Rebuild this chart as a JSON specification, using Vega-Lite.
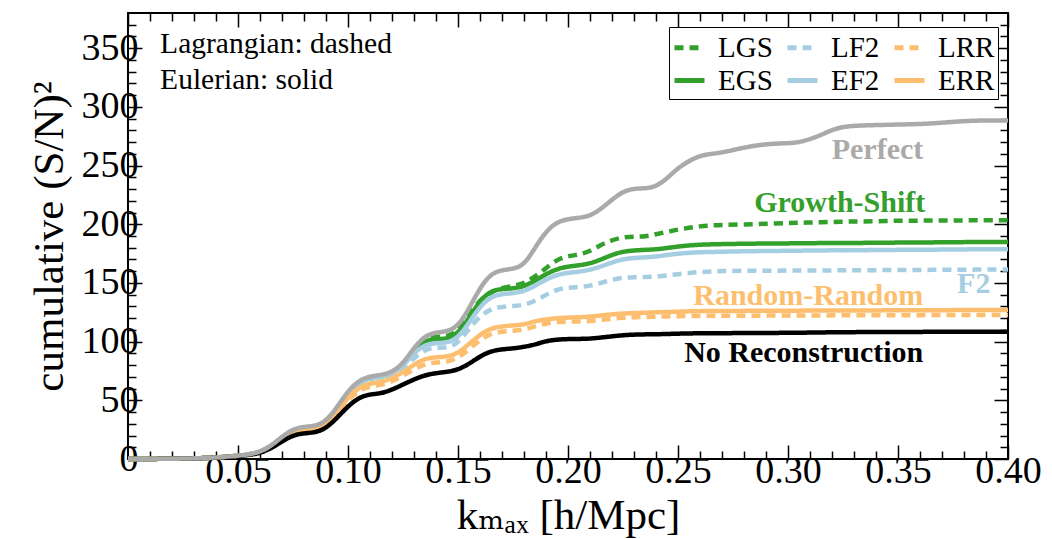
{
  "$schema": "https://vega.github.io/schema/vega-lite/v6.json",
  "width": 880,
  "height": 446,
  "autosize": "none",
  "padding": {"left": 128, "top": 13, "right": 44, "bottom": 80},
  "background": "white",
  "config": {
    "font": "Liberation Serif, Times New Roman, DejaVu Serif, serif",
    "view": {"stroke": "black", "strokeWidth": 2},
    "axis": {
      "labelFont": "Liberation Serif, Times New Roman, DejaVu Serif, serif", "titleFont": "Liberation Serif, Times New Roman, DejaVu Serif, serif",
      "labelColor": "black", "titleColor": "black", "tickColor": "black",
      "tickWidth": 1.5, "domain": false, "grid": false, "titleFontWeight": "normal",
      "labelFlush": false, "labelOverlap": false
    },
    "legend": {"labelFont": "Liberation Serif, Times New Roman, DejaVu Serif, serif"},
    "text": {"font": "Liberation Serif, Times New Roman, DejaVu Serif, serif"}
  },
  "datasets": {
    "curves": [
      {"k":0,"Perfect":0,"NoRecon":0,"EGS":0,"LGS":0,"EF2":0,"LF2":0,"ERR":0,"LRR":0},
      {"k":0.01,"Perfect":0.05,"NoRecon":0.05,"EGS":0.05,"LGS":0.05,"EF2":0.05,"LF2":0.05,"ERR":0.05,"LRR":0.05},
      {"k":0.02,"Perfect":0.2,"NoRecon":0.2,"EGS":0.2,"LGS":0.2,"EF2":0.2,"LF2":0.2,"ERR":0.2,"LRR":0.2},
      {"k":0.03,"Perfect":0.5,"NoRecon":0.5,"EGS":0.5,"LGS":0.5,"EF2":0.5,"LF2":0.5,"ERR":0.5,"LRR":0.5},
      {"k":0.04,"Perfect":1.2,"NoRecon":1.1,"EGS":1.2,"LGS":1.2,"EF2":1.2,"LF2":1.2,"ERR":1.2,"LRR":1.2},
      {"k":0.05,"Perfect":2.8,"NoRecon":2.5,"EGS":2.8,"LGS":2.8,"EF2":2.8,"LF2":2.8,"ERR":2.7,"LRR":2.7},
      {"k":0.055,"Perfect":3.8,"NoRecon":3.4,"EGS":3.8,"LGS":3.8,"EF2":3.8,"LF2":3.8,"ERR":3.7,"LRR":3.6},
      {"k":0.06,"Perfect":6,"NoRecon":5,"EGS":5.9,"LGS":5.9,"EF2":5.9,"LF2":5.8,"ERR":5.7,"LRR":5.5},
      {"k":0.065,"Perfect":11,"NoRecon":9,"EGS":10.8,"LGS":10.8,"EF2":10.8,"LF2":10.6,"ERR":10.5,"LRR":10},
      {"k":0.07,"Perfect":19,"NoRecon":15,"EGS":18.6,"LGS":18.6,"EF2":18.6,"LF2":18.4,"ERR":17.8,"LRR":17},
      {"k":0.075,"Perfect":25.5,"NoRecon":20.3,"EGS":25,"LGS":25,"EF2":25,"LF2":24.7,"ERR":23.5,"LRR":22.5},
      {"k":0.08,"Perfect":27.5,"NoRecon":22,"EGS":27,"LGS":27,"EF2":27,"LF2":26.7,"ERR":25.3,"LRR":24.3},
      {"k":0.085,"Perfect":28,"NoRecon":22.5,"EGS":27.5,"LGS":27.5,"EF2":27.5,"LF2":27.2,"ERR":25.7,"LRR":24.7},
      {"k":0.09,"Perfect":32,"NoRecon":26,"EGS":31.3,"LGS":31.3,"EF2":31.3,"LF2":31,"ERR":29.5,"LRR":28.3},
      {"k":0.095,"Perfect":44,"NoRecon":35,"EGS":43,"LGS":43,"EF2":43,"LF2":42.5,"ERR":40,"LRR":38.5},
      {"k":0.1,"Perfect":58,"NoRecon":45,"EGS":56.5,"LGS":56.5,"EF2":56.5,"LF2":56,"ERR":52.5,"LRR":50.5},
      {"k":0.105,"Perfect":67,"NoRecon":52.5,"EGS":65.5,"LGS":65.5,"EF2":65.5,"LF2":65,"ERR":61,"LRR":58.5},
      {"k":0.11,"Perfect":70.5,"NoRecon":55.2,"EGS":69,"LGS":69,"EF2":69,"LF2":68.5,"ERR":64.5,"LRR":62},
      {"k":0.115,"Perfect":71.5,"NoRecon":55.8,"EGS":70,"LGS":70,"EF2":70,"LF2":69.5,"ERR":65.5,"LRR":63},
      {"k":0.12,"Perfect":74,"NoRecon":59,"EGS":72.8,"LGS":72.8,"EF2":72.5,"LF2":71,"ERR":68.8,"LRR":66},
      {"k":0.125,"Perfect":81,"NoRecon":63.5,"EGS":80,"LGS":80,"EF2":79,"LF2":76.5,"ERR":74,"LRR":71},
      {"k":0.13,"Perfect":95,"NoRecon":67.8,"EGS":92,"LGS":93,"EF2":90.5,"LF2":86,"ERR":80.5,"LRR":76.5},
      {"k":0.135,"Perfect":105,"NoRecon":71.5,"EGS":101,"LGS":102.5,"EF2":97.5,"LF2":93.5,"ERR":85.5,"LRR":81},
      {"k":0.14,"Perfect":108,"NoRecon":73.2,"EGS":102.5,"LGS":104.5,"EF2":98.8,"LF2":95,"ERR":86.8,"LRR":82.3},
      {"k":0.145,"Perfect":108.5,"NoRecon":74.2,"EGS":102,"LGS":104,"EF2":99,"LF2":94.5,"ERR":87,"LRR":82.6},
      {"k":0.15,"Perfect":113,"NoRecon":76,"EGS":107,"LGS":109,"EF2":103,"LF2":98.5,"ERR":90,"LRR":86},
      {"k":0.155,"Perfect":128,"NoRecon":81,"EGS":120,"LGS":122.5,"EF2":116,"LF2":111,"ERR":98,"LRR":93.5},
      {"k":0.16,"Perfect":146,"NoRecon":87.5,"EGS":135,"LGS":136,"EF2":130,"LF2":122,"ERR":106,"LRR":101.5},
      {"k":0.165,"Perfect":158,"NoRecon":92,"EGS":143.5,"LGS":142,"EF2":138.5,"LF2":128,"ERR":111.5,"LRR":107},
      {"k":0.17,"Perfect":161,"NoRecon":93.5,"EGS":144.8,"LGS":146,"EF2":140.5,"LF2":129.8,"ERR":113,"LRR":108.5},
      {"k":0.175,"Perfect":162,"NoRecon":94.2,"EGS":145.3,"LGS":147.3,"EF2":141.3,"LF2":130.3,"ERR":113.8,"LRR":109.3},
      {"k":0.18,"Perfect":165,"NoRecon":95.5,"EGS":147,"LGS":149.5,"EF2":142.8,"LF2":131.2,"ERR":114.5,"LRR":110.2},
      {"k":0.185,"Perfect":180,"NoRecon":97.5,"EGS":152,"LGS":155.5,"EF2":147.5,"LF2":134.5,"ERR":117.5,"LRR":113},
      {"k":0.19,"Perfect":194,"NoRecon":100.5,"EGS":157.5,"LGS":162.5,"EF2":153,"LF2":140,"ERR":119,"LRR":115.5},
      {"k":0.195,"Perfect":202,"NoRecon":101.8,"EGS":162,"LGS":170,"EF2":157,"LF2":144.5,"ERR":120,"LRR":116.8},
      {"k":0.2,"Perfect":204.5,"NoRecon":102.2,"EGS":164,"LGS":173,"EF2":158.7,"LF2":146,"ERR":120.5,"LRR":117},
      {"k":0.205,"Perfect":205.5,"NoRecon":102.3,"EGS":165,"LGS":174,"EF2":159.5,"LF2":146.5,"ERR":120.8,"LRR":117.2},
      {"k":0.21,"Perfect":207,"NoRecon":102.5,"EGS":166.5,"LGS":177,"EF2":161.2,"LF2":147.5,"ERR":121.3,"LRR":117.5},
      {"k":0.215,"Perfect":213,"NoRecon":103.5,"EGS":170,"LGS":182.5,"EF2":164,"LF2":150,"ERR":122.3,"LRR":118.5},
      {"k":0.22,"Perfect":221,"NoRecon":104.5,"EGS":174,"LGS":186.5,"EF2":167.5,"LF2":152.8,"ERR":123.3,"LRR":119.5},
      {"k":0.225,"Perfect":228,"NoRecon":105.5,"EGS":176.8,"LGS":189,"EF2":170.3,"LF2":154.5,"ERR":124,"LRR":120.3},
      {"k":0.23,"Perfect":230.5,"NoRecon":106,"EGS":177.7,"LGS":189.5,"EF2":171.3,"LF2":155,"ERR":124.3,"LRR":120.8},
      {"k":0.235,"Perfect":230.5,"NoRecon":106.2,"EGS":178.2,"LGS":189.5,"EF2":171.8,"LF2":155.1,"ERR":124.6,"LRR":121},
      {"k":0.24,"Perfect":232,"NoRecon":106.3,"EGS":178.6,"LGS":191.5,"EF2":172.5,"LF2":155.3,"ERR":125,"LRR":121.3},
      {"k":0.245,"Perfect":239,"NoRecon":106.5,"EGS":179.8,"LGS":193.5,"EF2":173.8,"LF2":156.4,"ERR":125.2,"LRR":121.5},
      {"k":0.25,"Perfect":248,"NoRecon":106.8,"EGS":181,"LGS":195.5,"EF2":175,"LF2":157.5,"ERR":125.5,"LRR":121.7},
      {"k":0.255,"Perfect":254,"NoRecon":107,"EGS":182,"LGS":197,"EF2":175.7,"LF2":158.5,"ERR":125.8,"LRR":121.8},
      {"k":0.26,"Perfect":258.5,"NoRecon":107.1,"EGS":182.6,"LGS":198.3,"EF2":176.2,"LF2":159.3,"ERR":126,"LRR":121.9},
      {"k":0.265,"Perfect":260,"NoRecon":107.2,"EGS":182.9,"LGS":199,"EF2":176.4,"LF2":159.8,"ERR":126.1,"LRR":122},
      {"k":0.27,"Perfect":261,"NoRecon":107.2,"EGS":183.1,"LGS":199.4,"EF2":176.6,"LF2":160.2,"ERR":126.1,"LRR":122},
      {"k":0.28,"Perfect":265.5,"NoRecon":107.3,"EGS":183.4,"LGS":199.8,"EF2":177,"LF2":160.4,"ERR":126.2,"LRR":122.1},
      {"k":0.29,"Perfect":268.5,"NoRecon":107.4,"EGS":183.6,"LGS":200.4,"EF2":177.2,"LF2":160.5,"ERR":126.3,"LRR":122.2},
      {"k":0.3,"Perfect":269,"NoRecon":107.5,"EGS":183.7,"LGS":201,"EF2":177.4,"LF2":160.5,"ERR":126.4,"LRR":122.2},
      {"k":0.305,"Perfect":269.8,"NoRecon":107.6,"EGS":183.8,"LGS":201.2,"EF2":177.5,"LF2":160.5,"ERR":126.4,"LRR":122.2},
      {"k":0.31,"Perfect":272.5,"NoRecon":107.7,"EGS":183.9,"LGS":201.5,"EF2":177.6,"LF2":160.6,"ERR":126.5,"LRR":122.3},
      {"k":0.315,"Perfect":276,"NoRecon":107.8,"EGS":183.95,"LGS":201.7,"EF2":177.7,"LF2":160.6,"ERR":126.5,"LRR":122.3},
      {"k":0.32,"Perfect":280.5,"NoRecon":108,"EGS":184,"LGS":202,"EF2":177.8,"LF2":160.7,"ERR":126.5,"LRR":122.4},
      {"k":0.325,"Perfect":283,"NoRecon":108,"EGS":184.05,"LGS":202.2,"EF2":177.85,"LF2":160.75,"ERR":126.55,"LRR":122.4},
      {"k":0.33,"Perfect":284,"NoRecon":108.1,"EGS":184.1,"LGS":202.3,"EF2":177.9,"LF2":160.8,"ERR":126.6,"LRR":122.4},
      {"k":0.34,"Perfect":284.5,"NoRecon":108.2,"EGS":184.2,"LGS":202.6,"EF2":178,"LF2":160.9,"ERR":126.6,"LRR":122.5},
      {"k":0.35,"Perfect":285,"NoRecon":108.2,"EGS":184.4,"LGS":203,"EF2":178.2,"LF2":161,"ERR":126.7,"LRR":122.5},
      {"k":0.36,"Perfect":285.3,"NoRecon":108.3,"EGS":184.5,"LGS":203.1,"EF2":178.3,"LF2":161.1,"ERR":126.8,"LRR":122.6},
      {"k":0.37,"Perfect":286.5,"NoRecon":108.4,"EGS":184.6,"LGS":203.2,"EF2":178.4,"LF2":161.2,"ERR":126.8,"LRR":122.6},
      {"k":0.38,"Perfect":288,"NoRecon":108.5,"EGS":184.8,"LGS":203.3,"EF2":178.6,"LF2":161.3,"ERR":126.9,"LRR":122.7},
      {"k":0.39,"Perfect":288.5,"NoRecon":108.5,"EGS":184.9,"LGS":203.4,"EF2":178.7,"LF2":161.4,"ERR":127,"LRR":122.7},
      {"k":0.4,"Perfect":288.5,"NoRecon":108.5,"EGS":185,"LGS":203.5,"EF2":178.8,"LF2":161.5,"ERR":127,"LRR":122.7}
    ],
    "labels": [
      {"k":0.3615,"value":255.4,"series":"Perfect","text":"Perfect"},
      {"k":0.3624,"value":210.3,"series":"EGS","text":"Growth-Shift"},
      {"k":0.392,"value":141.4,"series":"EF2","text":"F2"},
      {"k":0.3615,"value":131.2,"series":"ERR","text":"Random-Random"},
      {"k":0.3615,"value":82.7,"series":"NoRecon","text":"No Reconstruction"}
    ],
    "notes": [
      {"k":0.0146,"value":345.5,"text":"Lagrangian: dashed"},
      {"k":0.0146,"value":314.9,"text":"Eulerian: solid"}
    ],
    "origin": [{"k":0,"value":0}]
  },
  "resolve": {"axis": {"x": "independent", "y": "independent"}},
  "layer": [
    {
      "data": {"name": "curves"},
      "transform": [{"fold": ["LGS","EGS","LF2","EF2","LRR","ERR","NoRecon","Perfect"], "as": ["series","value"]}],
      "mark": {"type": "line", "strokeWidth": 4.5, "interpolate": "basis", "strokeCap": "butt"},
      "encoding": {
        "x": {"field": "k", "type": "quantitative",
          "scale": {"domain": [0, 0.4], "nice": false, "zero": false},
          "axis": {"orient": "bottom", "values": [0.05,0.1,0.15,0.2,0.25,0.3,0.35,0.4], "format": ".2f",
            "labelFontSize": 38, "tickSize": -14, "labelPadding": 7,
            "title": "kₘₐₓ [h/Mpc]", "titleFontSize": 43, "titlePadding": 4}},
        "y": {"field": "value", "type": "quantitative",
          "scale": {"domain": [0, 380], "nice": false, "zero": false},
          "axis": {"orient": "left", "values": [0,50,100,150,200,250,300,350],
            "labelFontSize": 38, "tickSize": -14, "labelPadding": 4,
            "title": "cumulative (S/N)²", "titleFontSize": 43, "titlePadding": 10}},
        "color": {"field": "series", "type": "nominal",
          "scale": {"domain": ["LGS","LF2","LRR","EGS","EF2","ERR","Perfect","NoRecon"],
                    "range": ["#33a02c","#a6cee3","#fdbf6f","#33a02c","#a6cee3","#fdbf6f","#aaaaaa","#000000"]},
          "legend": {"orient": "none", "legendX": 541, "legendY": 14, "columns": 3, "direction": "horizontal",
            "values": ["LGS","LF2","LRR","EGS","EF2","ERR"], "title": null,
            "symbolType": "stroke", "symbolSize": 900, "symbolStrokeWidth": 5,
            "labelFontSize": 29, "labelColor": "black", "labelLimit": 200,
            "labelOffset": 11, "columnPadding": 4, "rowPadding": -3, "padding": 3,
            "strokeColor": "black", "fillColor": "white"}},
        "strokeDash": {"field": "series", "type": "nominal",
          "scale": {"domain": ["LGS","LF2","LRR","EGS","EF2","ERR","Perfect","NoRecon"],
                    "range": [[9,6],[9,6],[9,6],[1,0],[1,0],[1,0],[1,0],[1,0]]},
          "legend": {"orient": "none", "legendX": 541, "legendY": 14, "columns": 3, "direction": "horizontal",
            "values": ["LGS","LF2","LRR","EGS","EF2","ERR"], "title": null,
            "symbolType": "stroke", "symbolSize": 900, "symbolStrokeWidth": 5,
            "labelFontSize": 29, "labelColor": "black", "labelLimit": 200,
            "labelOffset": 11, "columnPadding": 4, "rowPadding": -3, "padding": 3,
            "strokeColor": "black", "fillColor": "white"}}
      }
    },
    {
      "data": {"name": "labels"},
      "mark": {"type": "text", "fontSize": 30, "fontWeight": "bold", "align": "right", "baseline": "alphabetic"},
      "encoding": {
        "x": {"field": "k", "type": "quantitative", "axis": {"orient": "bottom", "values": [0.01,0.02,0.03,0.04,0.06,0.07,0.08,0.09,0.11,0.12,0.13,0.14,0.16,0.17,0.18,0.19,0.21,0.22,0.23,0.24,0.26,0.27,0.28,0.29,0.31,0.32,0.33,0.34,0.36,0.37,0.38,0.39], "labels": false, "tickSize": -8, "title": null}},
        "y": {"field": "value", "type": "quantitative", "axis": {"orient": "left", "values": [10,20,30,40,60,70,80,90,110,120,130,140,160,170,180,190,210,220,230,240,260,270,280,290,310,320,330,340,360,370], "labels": false, "tickSize": -8, "title": null}},
        "text": {"field": "text"},
        "color": {"field": "series", "type": "nominal", "legend": null}
      }
    },
    {
      "data": {"name": "notes"},
      "mark": {"type": "text", "fontSize": 29.5, "align": "left", "baseline": "alphabetic", "color": "black"},
      "encoding": {
        "x": {"field": "k", "type": "quantitative", "axis": {"orient": "top", "values": [0,0.05,0.1,0.15,0.2,0.25,0.3,0.35,0.4], "labels": false, "tickSize": -14, "title": null}},
        "y": {"field": "value", "type": "quantitative", "axis": {"orient": "right", "values": [0,50,100,150,200,250,300,350], "labels": false, "tickSize": -14, "title": null}},
        "text": {"field": "text"}
      }
    },
    {
      "data": {"name": "origin"},
      "mark": {"type": "point", "opacity": 0},
      "encoding": {
        "x": {"field": "k", "type": "quantitative", "axis": {"orient": "top", "values": [0.01,0.02,0.03,0.04,0.06,0.07,0.08,0.09,0.11,0.12,0.13,0.14,0.16,0.17,0.18,0.19,0.21,0.22,0.23,0.24,0.26,0.27,0.28,0.29,0.31,0.32,0.33,0.34,0.36,0.37,0.38,0.39], "labels": false, "tickSize": -8, "title": null}},
        "y": {"field": "value", "type": "quantitative", "axis": {"orient": "right", "values": [10,20,30,40,60,70,80,90,110,120,130,140,160,170,180,190,210,220,230,240,260,270,280,290,310,320,330,340,360,370], "labels": false, "tickSize": -8, "title": null}}
      }
    }
  ]
}
